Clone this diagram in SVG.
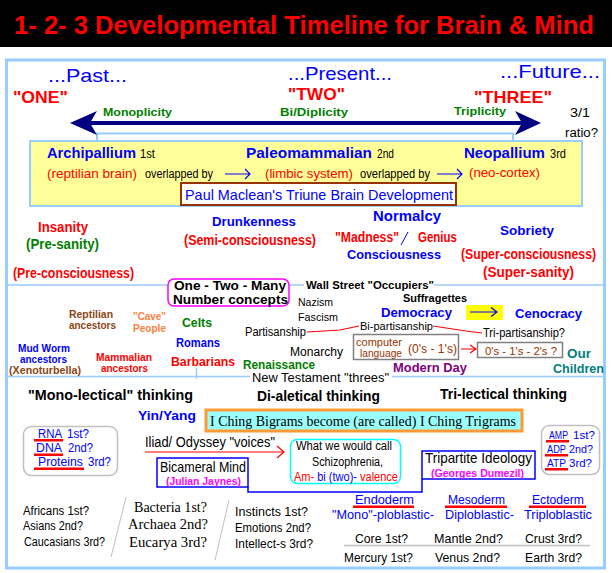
<svg xmlns="http://www.w3.org/2000/svg" width="612" height="573" viewBox="0 0 612 573">
<style>
text{font-family:"Liberation Sans",Arial,sans-serif;}
.b{font-weight:bold;}
.s{font-family:"Liberation Serif","Times New Roman",serif;}
.blue{fill:#0000ff;}
.red{fill:#ff0000;}
.grn{fill:#008000;}
.blk{fill:#000000;}
.brn{fill:#8b4513;}
.mag{fill:#ff00ff;}
.frame{fill:none;stroke:#99ccff;stroke-width:3;}
.div{fill:none;stroke:#99ccff;stroke-width:1.5;}
.gbox{fill:#ffffff;stroke:#c0c0c0;stroke-width:1.5;}
.bbox{fill:#ffffff;stroke:#0000ff;stroke-width:1.5;}
.ul{fill:#ff0000;}
.arrowb{fill:none;stroke:#0000ff;stroke-width:1.2;}
.arrowr{fill:none;stroke:#ff0000;stroke-width:1.2;}
</style>
<rect x="0" y="0" width="612" height="573" fill="#ffffff"/>
<g id="title">
<rect x="0" y="0" width="612" height="47" fill="#000000"/>
<text x="14" y="34" font-size="25" class="b red" textLength="580" lengthAdjust="spacingAndGlyphs">1- 2- 3 Developmental Timeline for Brain &amp; Mind</text>
</g>
<g id="frame">
<rect x="6.5" y="60" width="598" height="508" class="frame"/>
<path d="M6,285 H168 M289,285 H304 M434,285 H605 M6,376.5 H250 M392,376.5 H605 M196.5,368 V379" class="div"/>
<path d="M97,141 V133.5 H513 V141" fill="none" stroke="#99ccff" stroke-width="2"/>
</g>
<g id="timeline">
<text x="48" y="82" font-size="19" class="blue" textLength="79" lengthAdjust="spacingAndGlyphs">...Past...</text>
<text x="288" y="80" font-size="19" class="blue" textLength="104" lengthAdjust="spacingAndGlyphs">...Present...</text>
<text x="500" y="78" font-size="19" class="blue" textLength="100" lengthAdjust="spacingAndGlyphs">...Future...</text>
<text x="13" y="103" font-size="17" class="b red" textLength="55" lengthAdjust="spacingAndGlyphs">"ONE"</text>
<text x="288" y="100" font-size="17" class="b red" textLength="57" lengthAdjust="spacingAndGlyphs">"TWO"</text>
<text x="474" y="103" font-size="17" class="b red" textLength="78" lengthAdjust="spacingAndGlyphs">"THREE"</text>
<text x="103" y="116" font-size="11" class="b grn" textLength="69" lengthAdjust="spacingAndGlyphs">Monoplicity</text>
<text x="280" y="116" font-size="11" class="b grn" textLength="68" lengthAdjust="spacingAndGlyphs">Bi/Diplicity</text>
<text x="454" y="115" font-size="11" class="b grn" textLength="52" lengthAdjust="spacingAndGlyphs">Triplicity</text>
<line x1="90" y1="123" x2="522" y2="123" stroke="#000080" stroke-width="4"/>
<polygon points="70,123 97,111 90,123 97,135" fill="#000080"/>
<polygon points="541,123 515,111 522,123 515,135" fill="#000080"/>
<text x="570" y="117" font-size="12" class="blk" textLength="20" lengthAdjust="spacingAndGlyphs">3/1</text>
<text x="565" y="137" font-size="12" class="blk" textLength="33" lengthAdjust="spacingAndGlyphs">ratio?</text>
</g>
<g id="triune">
<rect x="30" y="141" width="552" height="65" fill="#ffff99" stroke="#99ccff" stroke-width="2"/>
<text x="47" y="158" font-size="14" class="b blue" textLength="89" lengthAdjust="spacingAndGlyphs">Archipallium</text>
<text x="140" y="158" font-size="12" class="blk" textLength="15" lengthAdjust="spacingAndGlyphs">1st</text>
<text x="246" y="158" font-size="14" class="b blue" textLength="126" lengthAdjust="spacingAndGlyphs">Paleomammalian</text>
<text x="377" y="158" font-size="12" class="blk" textLength="17" lengthAdjust="spacingAndGlyphs">2nd</text>
<text x="464" y="158" font-size="14" class="b blue" textLength="81" lengthAdjust="spacingAndGlyphs">Neopallium</text>
<text x="550" y="158" font-size="12" class="blk" textLength="16" lengthAdjust="spacingAndGlyphs">3rd</text>
<text x="47" y="178" font-size="13" class="red" textLength="90" lengthAdjust="spacingAndGlyphs">(reptilian brain)</text>
<text x="145" y="178" font-size="12" class="blk" textLength="68" lengthAdjust="spacingAndGlyphs">overlapped by</text>
<text x="265" y="178" font-size="13" class="red" textLength="88" lengthAdjust="spacingAndGlyphs">(limbic system)</text>
<text x="360" y="178" font-size="12" class="blk" textLength="70" lengthAdjust="spacingAndGlyphs">overlapped by</text>
<text x="469" y="177" font-size="13" class="red" textLength="71" lengthAdjust="spacingAndGlyphs">(neo-cortex)</text>
<rect x="264" y="182" width="90" height="1.5" fill="#ffff00"/>
</g>
<g id="paul">
<rect x="181" y="183" width="275" height="22" fill="#ffffff" stroke="#993300" stroke-width="2"/>
<text x="185" y="200" font-size="15" class="blue" textLength="268" lengthAdjust="spacingAndGlyphs">Paul Maclean's Triune Brain Development</text>
</g>
<g id="states">
<text x="38" y="232" font-size="14" class="b red" textLength="50" lengthAdjust="spacingAndGlyphs">Insanity</text>
<text x="26" y="249" font-size="14" class="b grn" textLength="73" lengthAdjust="spacingAndGlyphs">(Pre-sanity)</text>
<text x="13" y="278" font-size="14" class="b red" textLength="121" lengthAdjust="spacingAndGlyphs">(Pre-consciousness)</text>
<text x="212" y="226" font-size="13" class="b blue" textLength="84" lengthAdjust="spacingAndGlyphs">Drunkenness</text>
<text x="184" y="245" font-size="14" class="b red" textLength="132" lengthAdjust="spacingAndGlyphs">(Semi-consciousness)</text>
<text x="373" y="221" font-size="14" class="b blue" textLength="68" lengthAdjust="spacingAndGlyphs">Normalcy</text>
<text x="335" y="242" font-size="14" class="b red" textLength="64" lengthAdjust="spacingAndGlyphs">"Madness"</text>
<line x1="401" y1="245" x2="408" y2="232" stroke="#0000ff" stroke-width="1"/>
<text x="418" y="242" font-size="14" class="b red" textLength="39" lengthAdjust="spacingAndGlyphs">Genius</text>
<text x="347" y="259" font-size="13" class="b blue" textLength="94" lengthAdjust="spacingAndGlyphs">Consciousness</text>
<text x="500" y="235" font-size="13" class="b blue" textLength="54" lengthAdjust="spacingAndGlyphs">Sobriety</text>
<text x="461" y="259" font-size="14" class="b red" textLength="135" lengthAdjust="spacingAndGlyphs">(Super-consciousness)</text>
<text x="483" y="277" font-size="14" class="b red" textLength="91" lengthAdjust="spacingAndGlyphs">(Super-sanity)</text>
</g>
<g id="number-concepts">
<rect x="168" y="279" width="121" height="27" rx="6" fill="#ffffff" stroke="#ff00ff" stroke-width="1.5"/>
<text x="174" y="290" font-size="12" class="b blk" textLength="112" lengthAdjust="spacingAndGlyphs">One - Two - Many</text>
<text x="173" y="304" font-size="12" class="b blk" textLength="115" lengthAdjust="spacingAndGlyphs">Number concepts</text>
</g>
<g id="history">
<text x="306" y="289" font-size="11" class="b blk" textLength="128" lengthAdjust="spacingAndGlyphs">Wall Street "Occupiers"</text>
<text x="298" y="306" font-size="11" class="blk" textLength="35" lengthAdjust="spacingAndGlyphs">Nazism</text>
<text x="298" y="321" font-size="11" class="blk" textLength="40" lengthAdjust="spacingAndGlyphs">Fascism</text>
<text x="403" y="302" font-size="11" class="b blk" textLength="64" lengthAdjust="spacingAndGlyphs">Suffragettes</text>
<text x="381" y="317" font-size="13" class="b blue" textLength="71" lengthAdjust="spacingAndGlyphs">Democracy</text>
<rect x="466" y="305" width="37" height="15" fill="#ffff00"/>
<text x="515" y="318" font-size="13" class="b blue" textLength="67" lengthAdjust="spacingAndGlyphs">Cenocracy</text>
<text x="245" y="336" font-size="12" class="blk" textLength="61" lengthAdjust="spacingAndGlyphs">Partisanship</text>
<text x="360" y="329.5" font-size="11.5" class="blk" textLength="73" lengthAdjust="spacingAndGlyphs">Bi-partisanship</text>
<text x="483" y="337" font-size="12" class="blk" textLength="82" lengthAdjust="spacingAndGlyphs">Tri-partisanship?</text>
<text x="290" y="356" font-size="12" class="blk" textLength="53" lengthAdjust="spacingAndGlyphs">Monarchy</text>
<text x="243" y="369" font-size="12" class="b grn" textLength="72" lengthAdjust="spacingAndGlyphs">Renaissance</text>
<text x="393" y="372" font-size="13" class="b" fill="#800080" textLength="74" lengthAdjust="spacingAndGlyphs">Modern Day</text>
<text x="567" y="358" font-size="12" class="b" fill="#008080" textLength="24" lengthAdjust="spacingAndGlyphs">Our</text>
<text x="553" y="373" font-size="12" class="b" fill="#008080" textLength="51" lengthAdjust="spacingAndGlyphs">Children</text>
<text x="252" y="382" font-size="12" class="blk" textLength="137" lengthAdjust="spacingAndGlyphs">New Testament "threes"</text>
<text x="69" y="318" font-size="11" class="b brn" textLength="44" lengthAdjust="spacingAndGlyphs">Reptilian</text>
<text x="69" y="329" font-size="11" class="b brn" textLength="47" lengthAdjust="spacingAndGlyphs">ancestors</text>
<text x="133" y="320" font-size="11" class="b" fill="#ff8040" textLength="33" lengthAdjust="spacingAndGlyphs">"Cave"</text>
<text x="133" y="332" font-size="11" class="b" fill="#ff8040" textLength="33" lengthAdjust="spacingAndGlyphs">People</text>
<text x="182" y="327" font-size="13" class="b grn" textLength="30" lengthAdjust="spacingAndGlyphs">Celts</text>
<text x="176" y="347" font-size="13" class="b blue" textLength="44" lengthAdjust="spacingAndGlyphs">Romans</text>
<text x="171" y="366" font-size="13" class="b red" textLength="64" lengthAdjust="spacingAndGlyphs">Barbarians</text>
<text x="18" y="352" font-size="11" class="b blue" textLength="52" lengthAdjust="spacingAndGlyphs">Mud Worm</text>
<text x="20" y="363" font-size="11" class="b blue" textLength="47" lengthAdjust="spacingAndGlyphs">ancestors</text>
<text x="9" y="374" font-size="11" class="b brn" textLength="72" lengthAdjust="spacingAndGlyphs">(Xenoturbella)</text>
<text x="96" y="361" font-size="11" class="b red" textLength="56" lengthAdjust="spacingAndGlyphs">Mammalian</text>
<text x="101" y="372" font-size="11" class="b red" textLength="47" lengthAdjust="spacingAndGlyphs">ancestors</text>
</g>
<g id="computer-language">
<rect x="353.5" y="334.5" width="105" height="25" fill="none" stroke="#808080" stroke-width="1.5"/>
<text x="356" y="346" font-size="11" fill="#993300" textLength="46" lengthAdjust="spacingAndGlyphs">computer</text>
<text x="360" y="357" font-size="11" fill="#993300" textLength="42" lengthAdjust="spacingAndGlyphs">language</text>
<text x="408" y="353" font-size="12" fill="#993300" textLength="49" lengthAdjust="spacingAndGlyphs">(0's - 1's)</text>
</g>
<g id="ternary">
<rect x="477.5" y="342.5" width="85" height="15" fill="none" stroke="#808080" stroke-width="1.5"/>
<text x="485" y="355" font-size="11" fill="#993300" textLength="72" lengthAdjust="spacingAndGlyphs">0's - 1's - 2's ?</text>
</g>
<g id="thinking">
<text x="28" y="400" font-size="14" class="b blk" textLength="165" lengthAdjust="spacingAndGlyphs">"Mono-lectical"  thinking</text>
<text x="257" y="401" font-size="14" class="b blk" textLength="123" lengthAdjust="spacingAndGlyphs">Di-aletical  thinking</text>
<text x="440" y="399" font-size="14" class="b blk" textLength="127" lengthAdjust="spacingAndGlyphs">Tri-lectical  thinking</text>
<text x="138" y="420" font-size="13" class="b blue" textLength="58" lengthAdjust="spacingAndGlyphs">Yin/Yang</text>
</g>
<g id="iching">
<rect x="206" y="410" width="316" height="21" fill="#99ffff" stroke="#ff9933" stroke-width="3"/>
<text x="210" y="426" font-size="15" class="s blk" textLength="306" lengthAdjust="spacingAndGlyphs">I Ching Bigrams become (are called) I Ching Trigrams</text>
</g>
<g id="rna">
<rect x="23.5" y="426.5" width="94" height="49" rx="8" class="gbox"/>
<text x="38" y="438" font-size="12" class="blue" textLength="24" lengthAdjust="spacingAndGlyphs">RNA</text>
<text x="67" y="438" font-size="12" class="blue" textLength="22" lengthAdjust="spacingAndGlyphs">1st?</text>
<rect x="34" y="439" width="29" height="2.5" class="ul"/>
<text x="36" y="452" font-size="12" class="blue" textLength="26" lengthAdjust="spacingAndGlyphs">DNA</text>
<text x="68" y="452" font-size="12" class="blue" textLength="25" lengthAdjust="spacingAndGlyphs">2nd?</text>
<rect x="34" y="453.5" width="29" height="2.5" class="ul"/>
<text x="38" y="466" font-size="12" class="blue" textLength="45" lengthAdjust="spacingAndGlyphs">Proteins</text>
<text x="88" y="466" font-size="12" class="blue" textLength="23" lengthAdjust="spacingAndGlyphs">3rd?</text>
<rect x="34" y="467.5" width="50" height="2.5" class="ul"/>
</g>
<g id="iliad">
<text x="145" y="447" font-size="14" class="blk" textLength="130" lengthAdjust="spacingAndGlyphs">Iliad/ Odyssey "voices"</text>
</g>
<g id="schizo">
<rect x="290.5" y="439.5" width="110" height="44" rx="7" fill="#ffffff" stroke="#00ffff" stroke-width="1.5"/>
<text x="296" y="450" font-size="12" class="blk" textLength="96" lengthAdjust="spacingAndGlyphs">What we would call</text>
<text x="312" y="466" font-size="12" class="blk" textLength="71" lengthAdjust="spacingAndGlyphs">Schizophrenia,</text>
<text x="294" y="481" font-size="12" textLength="104" lengthAdjust="spacingAndGlyphs"><tspan class="red">Am-</tspan><tspan class="blue"> bi (two)-</tspan><tspan class="red"> valence</tspan></text>
</g>
<g id="bicameral">
<rect x="157" y="458" width="91" height="29" class="bbox"/>
<text x="160" y="472" font-size="15" class="blk" textLength="86" lengthAdjust="spacingAndGlyphs">Bicameral Mind</text>
<text x="166" y="485" font-size="11" class="b mag" textLength="75" lengthAdjust="spacingAndGlyphs">(Julian Jaynes)</text>
</g>
<g id="tripartite">
<rect x="422" y="451" width="113" height="28" class="bbox"/>
<text x="425" y="463" font-size="15" class="blk" textLength="107" lengthAdjust="spacingAndGlyphs">Tripartite Ideology</text>
<text x="431" y="477" font-size="11" class="b mag" textLength="93" lengthAdjust="spacingAndGlyphs">(Georges Dumezil)</text>
</g>
<g id="amp">
<rect x="541.5" y="425.5" width="58" height="49" rx="8" class="gbox"/>
<text x="549" y="439" font-size="11" class="blue" textLength="19" lengthAdjust="spacingAndGlyphs">AMP</text>
<text x="573" y="439" font-size="11" class="blue" textLength="22" lengthAdjust="spacingAndGlyphs">1st?</text>
<rect x="546" y="440" width="23" height="2.5" class="ul"/>
<text x="547" y="453" font-size="11" class="blue" textLength="19" lengthAdjust="spacingAndGlyphs">ADP</text>
<text x="569" y="453" font-size="11" class="blue" textLength="24" lengthAdjust="spacingAndGlyphs">2nd?</text>
<rect x="545" y="454" width="23" height="2.5" class="ul"/>
<text x="547" y="467" font-size="11" class="blue" textLength="19" lengthAdjust="spacingAndGlyphs">ATP</text>
<text x="569" y="467" font-size="11" class="blue" textLength="23" lengthAdjust="spacingAndGlyphs">3rd?</text>
<rect x="545" y="468" width="23" height="2.5" class="ul"/>
</g>
<g id="bottom">
<text x="23" y="515" font-size="12" class="blk" textLength="66" lengthAdjust="spacingAndGlyphs">Africans 1st?</text>
<text x="23" y="530" font-size="12" class="blk" textLength="60" lengthAdjust="spacingAndGlyphs">Asians 2nd?</text>
<text x="24" y="546" font-size="12" class="blk" textLength="81" lengthAdjust="spacingAndGlyphs">Caucasians 3rd?</text>
<text x="134" y="512" font-size="14" class="s blk" textLength="73" lengthAdjust="spacingAndGlyphs">Bacteria 1st?</text>
<text x="128" y="529" font-size="14" class="s blk" textLength="80" lengthAdjust="spacingAndGlyphs">Archaea 2nd?</text>
<text x="129" y="547" font-size="14" class="s blk" textLength="78" lengthAdjust="spacingAndGlyphs">Eucarya 3rd?</text>
<text x="235" y="516" font-size="12" class="blk" textLength="73" lengthAdjust="spacingAndGlyphs">Instincts 1st?</text>
<text x="235" y="532" font-size="12" class="blk" textLength="76" lengthAdjust="spacingAndGlyphs">Emotions 2nd?</text>
<text x="235" y="548" font-size="12" class="blk" textLength="78" lengthAdjust="spacingAndGlyphs">Intellect-s 3rd?</text>
<text x="355" y="504" font-size="13" class="blue" textLength="59" lengthAdjust="spacingAndGlyphs">Endoderm</text>
<rect x="353" y="505.5" width="61" height="2.5" class="ul"/>
<text x="448" y="504" font-size="13" class="blue" textLength="57" lengthAdjust="spacingAndGlyphs">Mesoderm</text>
<rect x="445" y="505.5" width="62" height="2.5" class="ul"/>
<text x="532" y="504" font-size="13" class="blue" textLength="52" lengthAdjust="spacingAndGlyphs">Ectoderm</text>
<rect x="529" y="505.5" width="57" height="2.5" class="ul"/>
<text x="332" y="519" font-size="13" class="blue" textLength="102" lengthAdjust="spacingAndGlyphs">"Mono"-ploblastic-</text>
<text x="445" y="519" font-size="13" class="blue" textLength="69" lengthAdjust="spacingAndGlyphs">Diploblastic-</text>
<text x="524" y="519" font-size="13" class="blue" textLength="68" lengthAdjust="spacingAndGlyphs">Triploblastic</text>
<text x="355" y="543" font-size="13" class="blk" textLength="53" lengthAdjust="spacingAndGlyphs">Core 1st?</text>
<text x="434" y="543" font-size="13" class="blk" textLength="69" lengthAdjust="spacingAndGlyphs">Mantle 2nd?</text>
<text x="525" y="543" font-size="13" class="blk" textLength="57" lengthAdjust="spacingAndGlyphs">Crust 3rd?</text>
<line x1="344" y1="545.5" x2="590" y2="545.5" stroke="#c0c0c0" stroke-width="1.5"/>
<text x="344" y="562" font-size="13" class="blk" textLength="69" lengthAdjust="spacingAndGlyphs">Mercury 1st?</text>
<text x="435" y="562" font-size="13" class="blk" textLength="65" lengthAdjust="spacingAndGlyphs">Venus 2nd?</text>
<text x="525" y="562" font-size="13" class="blk" textLength="57" lengthAdjust="spacingAndGlyphs">Earth 3rd?</text>
<line x1="126" y1="497" x2="111" y2="557" stroke="#c0c0c0" stroke-width="1"/>
<line x1="229" y1="500" x2="215" y2="560" stroke="#c0c0c0" stroke-width="1"/>
</g>
<g id="connectors">
<path d="M225,174 H250 M245,169 L250,174 L245,179" class="arrowb"/>
<path d="M437,174 H462 M457,169 L462,174 L457,179" class="arrowb"/>
<path d="M470,312 H497 M491,307.5 L497,312 L491,316.5" class="arrowb"/>
<polyline points="307,332 340,330 359,326" class="arrowr"/>
<polyline points="433,326 466,331 482,333" class="arrowr"/>
<path d="M461,349 H476 M470,345 L476,349 L470,353" class="arrowr"/>
<path d="M145,452 H284 M277,446 L284,452 L277,458" class="arrowr"/>
<polyline points="248,487 248,492 422,492 422,479" fill="none" stroke="#0000ff" stroke-width="1.5"/>
</g>
</svg>
